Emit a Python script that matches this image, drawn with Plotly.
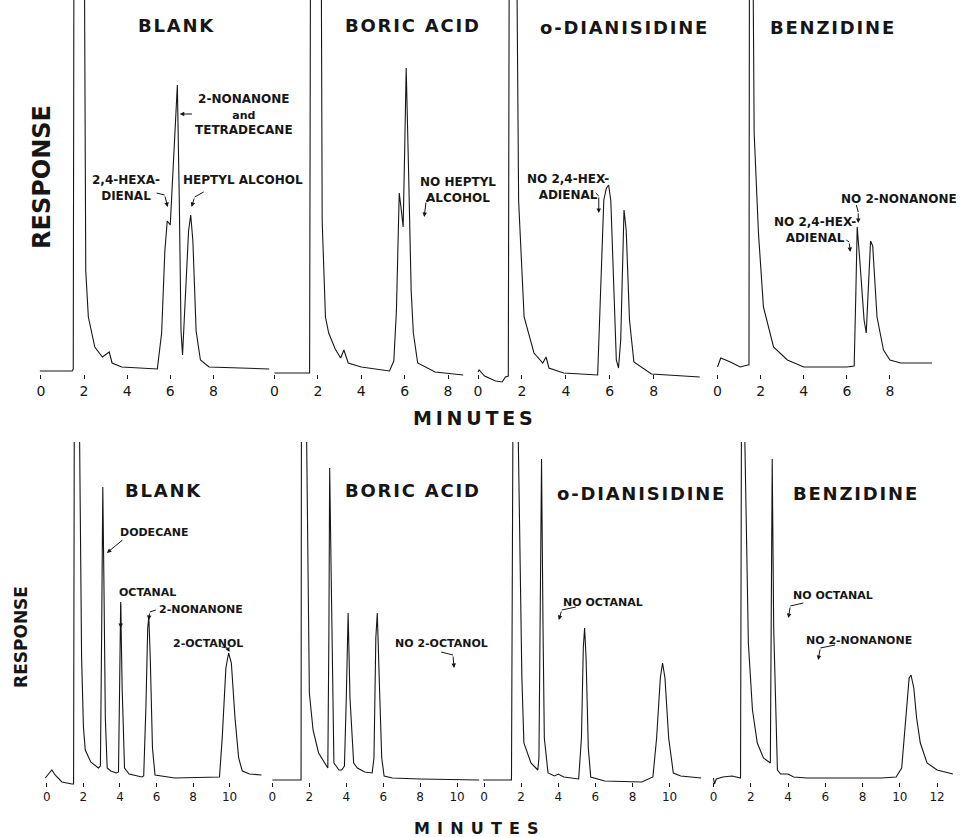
import plotly.graph_objects as go

# ---------------- data (minutes, detector response) ----------------
# Upper row: 2,4-hexadienal / 2-nonanone / heptyl alcohol mixture
top_blank_t = [-0.05, 1.45, 1.5, 1.53, 2.02, 2.08, 2.2, 2.35, 2.5, 2.85, 3.05, 3.17, 3.3, 3.75, 5.4, 5.6,
               5.75, 5.86, 6.0, 6.15, 6.33, 6.42, 6.5, 6.57, 6.7, 6.85, 6.95, 7.05, 7.2, 7.4, 7.8, 10.6]
top_blank_r = [0, 0, 2, 400, 400, 100, 54, 40, 24, 14, 17, 19, 8, 4, 2, 38,
               120, 150, 146, 215, 286, 170, 40, 16, 70, 140, 156, 130, 40, 11, 4, 2]

top_boric_t = [0, 1.62, 1.66, 2.16, 2.2, 2.35, 2.5, 2.8, 3.05, 3.2, 3.4, 4.0, 5.3, 5.5, 5.62, 5.75,
               5.85, 5.93, 6.0, 6.07, 6.18, 6.3, 6.4, 6.6, 7.4, 8.7]
top_boric_r = [-2, -2, 400, 400, 150, 54, 38, 22, 13, 21, 8, 4, 0, 10, 60, 178,
               160, 144, 220, 303, 200, 80, 38, 8, -1, -4]

top_dian_t = [0, 0.05, 0.3, 0.8, 1.1, 1.25, 1.38, 1.42, 1.77, 1.85, 2.1, 2.55, 2.95, 3.1, 3.23, 3.9,
              5.45, 5.55, 5.73, 5.85, 5.95, 6.05, 6.2, 6.3, 6.4, 6.5, 6.65, 6.75, 6.9, 7.1, 7.9, 10.1]
top_dian_r = [-1, 1, -5, -10, -11, -6, -5, 400, 400, 170, 54, 18, 8, 14, 3, -2,
              -4, 60, 171, 183, 186, 170, 71, 11, 3, 31, 161, 141, 51, 9, -3, -6]

top_benz_t = [0, 0.1, 0.15, 0.6, 1.05, 1.4, 1.46, 1.48, 1.65, 1.7, 1.9, 2.13, 2.6, 3.24, 4.0, 6.0,
              6.34, 6.42, 6.48, 6.6, 6.8, 6.9, 7.0, 7.1, 7.2, 7.4, 7.7, 8.0, 8.5, 9.95]
top_benz_r = [4, 10, 13, 9, 4, 6, 6, 400, 400, 238, 138, 64, 24, 11, 4, 4,
              5, 80, 144, 111, 51, 38, 81, 130, 125, 54, 21, 11, 8, 8]

# Lower row: dodecane / octanal / 2-nonanone / 2-octanol mixture
bot_blank_t = [-0.09, 0.27, 0.45, 0.82, 1.37, 1.46, 1.5, 1.78, 1.9, 2.0, 2.1, 2.4, 2.82, 2.93, 3.0, 3.06,
               3.12, 3.2, 3.3, 3.5, 3.8, 3.92, 3.98, 4.04, 4.12, 4.25, 4.5, 5.2, 5.3, 5.42, 5.52, 5.58,
               5.66, 5.78, 5.92, 7.0, 9.45, 9.6, 9.8, 9.95, 10.1, 10.3, 10.5, 10.7, 11.1, 11.75]
bot_blank_r = [0, 8, 3, -4, -6, -6, 360, 360, 120, 51, 28, 16, 10, 12, 150, 291,
               200, 60, 10, 7, 5, 6, 90, 176, 90, 10, 4, 1, 2, 70, 150, 161,
               120, 30, 3, 0, 1, 40, 110, 125, 115, 60, 20, 7, 4, 3]

bot_boric_t = [0, 1.55, 1.57, 1.84, 2.0, 2.2, 2.5, 3.0, 3.06, 3.1, 3.2, 3.33, 3.45, 3.6, 3.75, 3.9,
               4.0, 4.1, 4.2, 4.4, 4.6, 5.0, 5.4, 5.5, 5.6, 5.68, 5.8, 5.92, 6.05, 6.5, 8.0, 11.2]
bot_boric_r = [-2, -2, 360, 360, 85, 48, 25, 10, 150, 310, 180, 15, 12, 8, 8, 12,
               80, 165, 80, 15, 10, 6, 5, 20, 140, 165, 90, 20, 2, 0, -1, -2]

bot_dian_t = [-0.05, 1.48, 1.56, 1.83, 2.04, 2.15, 2.53, 2.9, 2.96, 3.03, 3.1, 3.18, 3.25, 3.45, 3.6, 3.8,
              4.0, 4.3, 5.1, 5.25, 5.35, 5.42, 5.5, 5.62, 5.75, 6.5, 8.5, 9.1, 9.3, 9.5, 9.62, 9.75,
              9.95, 10.2, 10.6, 11.7]
bot_dian_r = [-2, -2, 360, 360, 101, 35, 15, 8, 20, 200, 319, 150, 40, 5, 4, 2,
              4, 1, -1, 40, 130, 150, 120, 30, 1, -3, -4, 1, 40, 100, 115, 100,
              40, 5, 2, 0]

bot_benz_t = [0, 0.05, 0.15, 0.5, 1.0, 1.45, 1.5, 1.66, 1.87, 2.09, 2.35, 2.68, 3.05, 3.1, 3.15, 3.23,
              3.43, 3.6, 4.0, 4.3, 5.0, 9.0, 9.8, 10.1, 10.3, 10.5, 10.6, 10.75, 10.9, 11.1, 11.46, 12.0,
              12.85]
bot_benz_r = [0, -6, -1, 1, 2, 0, 360, 360, 135, 68, 35, 20, 15, 200, 319, 150,
              8, 4, 4, 1, 0, 0, 1, 10, 60, 100, 103, 90, 60, 35, 15, 8,
              4]

top_ticks = [0, 2, 4, 6, 8]
bot_ticks = [0, 2, 4, 6, 8, 10]
bot_ticks_long = [0, 2, 4, 6, 8, 10, 12]

panel_titles = ["BLANK", "BORIC ACID", "o-DIANISIDINE", "BENZIDINE",
                "BLANK", "BORIC ACID", "o-DIANISIDINE", "BENZIDINE"]

# ---------------- layout geometry ----------------
W, H = 963, 837
FONT = "DejaVu Sans"
INK = "#161616"

rows = [dict(ref=371, top=0, bottom=395, axis=374, tick=14),
        dict(ref=778, top=442, bottom=800, axis=782, tick=12)]

panels = [
    dict(t=top_blank_t, r=top_blank_r, row=0, x0=39, ppm=21.6, d=(20, 268), ticks=top_ticks),
    dict(t=top_boric_t, r=top_boric_r, row=0, x0=273, ppm=21.75, d=(268, 472), ticks=top_ticks),
    dict(t=top_dian_t, r=top_dian_r, row=0, x0=477, ppm=22.0, d=(472, 712), ticks=top_ticks),
    dict(t=top_benz_t, r=top_benz_r, row=0, x0=717, ppm=21.6, d=(712, 963), ticks=top_ticks),
    dict(t=bot_blank_t, r=bot_blank_r, row=1, x0=45, ppm=18.3, d=(0, 262), ticks=bot_ticks),
    dict(t=bot_boric_t, r=bot_boric_r, row=1, x0=271, ppm=18.5, d=(262, 481), ticks=bot_ticks),
    dict(t=bot_dian_t, r=bot_dian_r, row=1, x0=483, ppm=18.6, d=(481, 711), ticks=bot_ticks),
    dict(t=bot_benz_t, r=bot_benz_r, row=1, x0=713, ppm=18.67, d=(711, 963), ticks=bot_ticks_long),
]

# title positions (minutes, response) per panel
title_pos = [(6.25, 346), (6.34, 346), (6.64, 344), (5.32, 344),
             (6.34, 288), (7.57, 288), (8.44, 285), (7.61, 285)]

SMALL = '<span style="font-size:11px">and</span>'
# peak labels: (panel, minutes, response, text, size)
labels = [
    (0, 9.4, 257, "2-NONANONE<br>" + SMALL + "<br>TETRADECANE", 12),
    (0, 3.94, 183, "2,4-HEXA-<br>DIENAL", 12),
    (0, 9.38, 191, "HEPTYL ALCOHOL", 12),
    (1, 8.46, 181, "NO HEPTYL<br>ALCOHOL", 12),
    (2, 4.09, 184, "NO 2,4-HEX-<br>ADIENAL", 12),
    (3, 8.43, 172, "NO 2-NONANONE", 12),
    (3, 4.54, 141, "NO 2,4-HEX-<br>ADIENAL", 12),
    (4, 5.87, 246, "DODECANE", 11), (4, 5.52, 186, "OCTANAL", 11),
    (4, 8.42, 169, "2-NONANONE", 11), (4, 8.8, 135, "2-OCTANOL", 11),
    (5, 9.14, 135, "NO 2-OCTANOL", 11),
    (6, 6.42, 176, "NO OCTANAL", 11),
    (7, 6.4, 183, "NO OCTANAL", 11), (7, 7.82, 138, "NO 2-NONANONE", 11),
]

# pointer arrows: (panel, tail (min, resp), bend (min, resp) or None, head (min, resp))
arrows = [
    (0, (7.08, 257), None, (6.44, 257)),
    (0, (5.37, 178), (5.74, 176), (5.88, 164)),
    (0, (7.55, 179), (7.13, 174), (6.99, 164)),
    (1, (7.22, 175), (6.99, 170), (6.9, 154)),
    (2, (5.36, 178), (5.5, 175), (5.5, 158)),
    (3, (6.44, 166), (6.53, 159), (6.53, 148)),
    (3, (5.97, 131), (6.11, 129), (6.16, 119)),
    (4, (4.21, 239), None, (3.28, 225)),
    (4, (4.04, 175), None, (4.04, 150)),
    (4, (5.96, 168), (5.63, 166), (5.57, 158)),
    (4, (9.56, 131), (9.89, 130), (10.0, 126)),
    (5, (9.14, 126), (9.78, 123), (9.84, 110)),
    (6, (4.95, 171), (4.19, 168), (4.03, 158)),
    (7, (4.82, 175), (4.12, 172), (4.02, 160)),
    (7, (6.53, 133), (5.73, 130), (5.62, 118)),
]


def spaced(s, gap="\u200a"):
    return gap.join(s)


def axname(i):
    return "x" if i == 0 else f"x{i + 1}"


def yname(i):
    return "y" if panels[i]["row"] == 0 else "y2"


fig = go.Figure()
layout = {}
for i, p in enumerate(panels):
    row = rows[p["row"]]
    fig.add_trace(go.Scatter(x=p["t"], y=p["r"], mode="lines",
                             line=dict(color=INK, width=1.1),
                             xaxis=axname(i), yaxis=yname(i), hoverinfo="skip", showlegend=False))
    d0, d1 = p["d"]
    key = "xaxis" if i == 0 else f"xaxis{i + 1}"
    layout[key] = dict(
        domain=[d0 / W, d1 / W],
        range=[(d0 - p["x0"]) / p["ppm"], (d1 - p["x0"]) / p["ppm"]],
        anchor="free", position=1 - row["axis"] / H,
        tickvals=p["ticks"], ticks="outside", ticklen=4, tickwidth=1, tickcolor=INK,
        showline=False, showgrid=False, zeroline=False, fixedrange=True,
        tickfont=dict(family=FONT, size=row["tick"], color=INK),
    )

for j, row in enumerate(rows):
    key = "yaxis" if j == 0 else "yaxis2"
    layout[key] = dict(domain=[1 - row["bottom"] / H, 1 - row["top"] / H],
                       range=[row["ref"] - row["bottom"], row["ref"] - row["top"]],
                       visible=False, fixedrange=True)

annotations = []
for i, (tt, rr) in enumerate(title_pos):
    annotations.append(dict(x=tt, y=rr, xref=axname(i), yref=yname(i),
                            text="<b>" + spaced(panel_titles[i]) + "</b>",
                            showarrow=False, xanchor="center", yanchor="middle",
                            font=dict(family=FONT, size=18, color=INK)))
for (i, tt, rr, txt, sz) in labels:
    annotations.append(dict(x=tt, y=rr, xref=axname(i), yref=yname(i), text="<b>" + txt + "</b>",
                            showarrow=False, xanchor="center", yanchor="middle",
                            font=dict(family=FONT, size=sz, color=INK)))
for (i, tail, bend, head) in arrows:
    start = tail
    if bend is not None:
        fig.add_trace(go.Scatter(x=[tail[0], bend[0]], y=[tail[1], bend[1]], mode="lines",
                                 line=dict(color=INK, width=1, shape="spline"),
                                 xaxis=axname(i), yaxis=yname(i), hoverinfo="skip", showlegend=False))
        start = bend
    annotations.append(dict(x=head[0], y=head[1], ax=start[0], ay=start[1], xref=axname(i), yref=yname(i),
                            axref=axname(i), ayref=yname(i), text="", showarrow=True,
                            arrowhead=2, arrowsize=0.9, arrowwidth=1, arrowcolor=INK, standoff=0))

# axis titles (paper coordinates)
annotations += [
    dict(x=40 / W, y=1 - 177 / H, xref="paper", yref="paper", text="<b>RESPONSE</b>", textangle=-90,
         showarrow=False, xanchor="center", yanchor="middle", font=dict(family=FONT, size=24, color=INK)),
    dict(x=472 / W, y=1 - 418 / H, xref="paper", yref="paper", text="<b>" + spaced("MINUTES", "\u2009") + "</b>",
         showarrow=False, xanchor="center", yanchor="middle", font=dict(family=FONT, size=19, color=INK)),
    dict(x=19 / W, y=1 - 637 / H, xref="paper", yref="paper", text="<b>RESPONSE</b>", textangle=-90,
         showarrow=False, xanchor="center", yanchor="middle", font=dict(family=FONT, size=17, color=INK)),
    dict(x=475 / W, y=1 - 828 / H, xref="paper", yref="paper", text="<b>" + spaced("MINUTES", " \u200a") + "</b>",
         showarrow=False, xanchor="center", yanchor="middle", font=dict(family=FONT, size=16, color=INK)),
]

fig.update_layout(
    width=W, height=H, margin=dict(l=0, r=0, t=0, b=0),
    paper_bgcolor="white", plot_bgcolor="white",
    annotations=annotations, showlegend=False,
    **layout,
)

fig.write_html("out.html", config={"displayModeBar": False},
               post_script="document.body.style.margin='0';")
